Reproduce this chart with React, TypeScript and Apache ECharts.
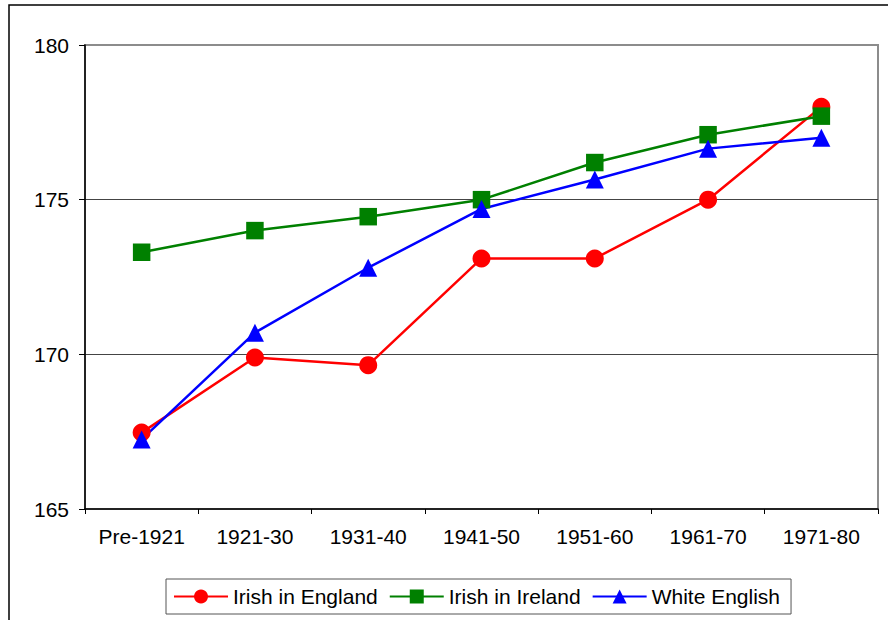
import React, { useEffect, useRef } from "react";
import * as echarts from "echarts";

const categories = ["Pre-1921", "1921-30", "1931-40", "1941-50", "1951-60", "1961-70", "1971-80"];
const irishInEngland = [167.47, 169.9, 169.65, 173.1, 173.1, 175.0, 178.0];
const irishInIreland = [173.3, 174.0, 174.45, 175.0, 176.2, 177.1, 177.7];
const whiteEnglish = [167.25, 170.7, 172.8, 174.7, 175.65, 176.65, 177.0];
const yTicks = { min: 165, max: 180, interval: 5 };

const FONT = "Liberation Sans, Arial, sans-serif";

export default function App() {
  const ref = useRef<HTMLDivElement>(null);
  useEffect(() => {
    document.body.style.margin = "0";
    const chart = echarts.init(ref.current!, null, { renderer: "svg" });
    chart.setOption({
      animation: false,
      backgroundColor: "#fff",
      textStyle: { fontFamily: FONT },
      graphic: [
        {
          type: "rect",
          shape: { x: 9, y: 5, width: 1000, height: 800 },
          style: { fill: "none", stroke: "#000", lineWidth: 1.5 },
          silent: true,
          z: -1,
        },
      ],
      grid: {
        left: 85,
        top: 45,
        right: 10,
        bottom: 111,
        show: true,
        borderColor: "#8c8c8c",
        borderWidth: 2,
      },
      legend: {
        left: 166,
        top: 579,
        orient: "horizontal",
        itemWidth: 54,
        itemHeight: 17.5,
        itemGap: 11,
        padding: [7, 11, 7, 7],
        borderColor: "#555",
        borderWidth: 1,
        textStyle: { fontSize: 21, color: "#000", fontFamily: FONT },
        data: ["Irish in England", "Irish in Ireland", "White English"],
      },
      xAxis: {
        type: "category",
        data: categories,
        boundaryGap: true,
        axisLine: { lineStyle: { color: "#000", width: 1.5 } },
        axisTick: { show: true, length: 5, lineStyle: { color: "#000" } },
        axisLabel: { fontSize: 21, color: "#000", margin: 17, fontFamily: FONT },
        splitLine: { show: false },
      },
      yAxis: {
        type: "value",
        min: yTicks.min,
        max: yTicks.max,
        interval: yTicks.interval,
        axisLine: { show: true, lineStyle: { color: "#000", width: 1.5 } },
        axisTick: { show: true, length: 6, lineStyle: { color: "#000" } },
        axisLabel: { fontSize: 21, color: "#000", margin: 16, fontFamily: FONT },
        splitLine: {
          show: true,
          showMaxLine: false,
          showMinLine: false,
          lineStyle: { color: "#444", width: 1 },
        },
      },
      series: [
        {
          name: "Irish in England",
          type: "line",
          data: irishInEngland,
          symbol: "circle",
          symbolSize: 18,
          color: "#ff0000",
          lineStyle: { color: "#ff0000", width: 2.5 },
          itemStyle: { color: "#ff0000" },
        },
        {
          name: "Irish in Ireland",
          type: "line",
          data: irishInIreland,
          symbol: "rect",
          symbolSize: 17.5,
          color: "#008000",
          lineStyle: { color: "#008000", width: 2.5 },
          itemStyle: { color: "#008000" },
        },
        {
          name: "White English",
          type: "line",
          data: whiteEnglish,
          symbol: "triangle",
          symbolSize: 18,
          color: "#0000ff",
          lineStyle: { color: "#0000ff", width: 2.5 },
          itemStyle: { color: "#0000ff" },
        },
      ],
    });
    return () => chart.dispose();
  }, []);
  return <div ref={ref} style={{ width: 888, height: 620, position: "absolute", left: 0, top: 0 }} />;
}
